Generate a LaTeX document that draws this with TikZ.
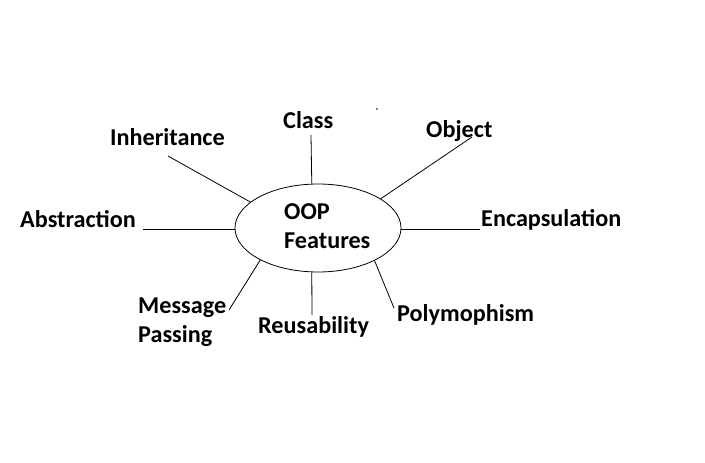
\documentclass[tikz,border=0pt]{standalone}
\usepackage{fontspec}
\setmainfont{Carlito}
\usetikzlibrary{shapes.geometric}
\begin{document}
\begin{tikzpicture}[x=1pt,y=-1pt,
  lbl/.style={font=\fontsize{24.2}{29}\selectfont\bfseries, inner sep=0pt, anchor=base west},
  conn/.style={draw=black, line width=0.8pt},
  hub/.style={draw=black, line width=0.8pt, ellipse, minimum width=166pt, minimum height=88pt, inner sep=0pt}]
\useasboundingbox (0,0) rectangle (705,463);
\fill[white] (0,0) rectangle (705,463);
\node[hub] (e) at (318,228) {};
\node[lbl] (oop) at (284,219) {OOP};
\node[lbl] (feat) at (284,248) {Features};
\node[lbl] (class) at (283,128) {Class};
\node[lbl] (inh) at (110,145) {Inheritance};
\node[lbl] (obj) at (426,137) {Object};
\node[lbl] (abs) at (20,227) {Abstraction};
\node[lbl] (enc) at (481,226) {Encapsulation};
\node[lbl] (msg) at (138,313) {Message};
\node[lbl] (pass) at (138,342) {Passing};
\node[lbl] (reu) at (258,333) {Reusability};
\node[lbl] (poly) at (397,321) {Polymophism};
\coordinate (cC) at (311,135);
\coordinate (cI) at (168,156);
\coordinate (cO) at (472,137);
\coordinate (cA) at (143,229);
\coordinate (cE) at (480,229);
\coordinate (cM) at (229,310);
\coordinate (cR) at (312,315);
\coordinate (cP) at (394,308);
\draw[conn] (cC) -- (e.98.8);
\draw[conn] (cI) -- (e.159.7);
\draw[conn] (cO) -- (e.25.1);
\draw[conn] (cA) -- (e.west |- cA);
\draw[conn] (cE) -- (e.east |- cE);
\draw[conn] (cM) -- (e.209.3);
\draw[conn] (cR) -- (e.262.2);
\draw[conn] (cP) -- (e.330.3);
\fill[gray] (376,108) rectangle (377.5,109.5);
\end{tikzpicture}
\end{document}
